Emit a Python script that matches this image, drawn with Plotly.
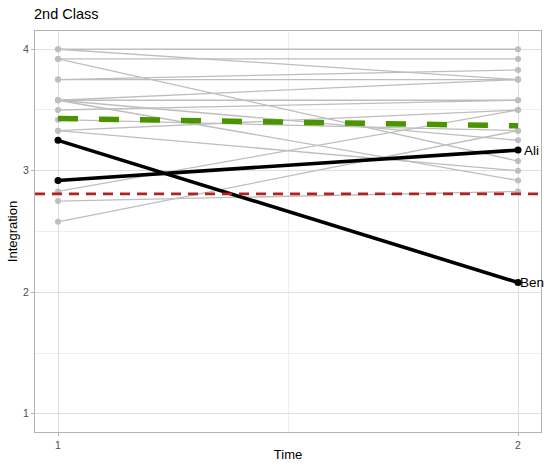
import plotly.graph_objects as go

# integration scores per student, time 1 -> time 2
times = [1, 2]
other_t1 = [4.00, 4.00, 3.92, 3.92, 3.75, 3.75, 3.58, 3.58, 3.58, 3.58, 3.50, 3.42, 3.33, 3.33, 2.83, 2.75, 2.58]
other_t2 = [4.00, 3.75, 3.92, 3.08, 3.83, 3.75, 3.75, 3.58, 3.25, 2.92, 3.58, 3.33, 3.50, 3.00, 3.50, 2.83, 3.33]

focus_names = ["Ali", "Ben"]
focus_t1 = [2.92, 3.25]
focus_t2 = [3.17, 2.08]

class_mean = [3.43, 3.37]   # green dashed summary line
reference_level = 2.81      # red dashed line

GREY = "#BEBEBE"
label_shift = {"Ali": 4, "Ben": 0}

fig = go.Figure()

for a, b in zip(other_t1, other_t2):
    fig.add_trace(go.Scatter(
        x=times, y=[a, b], mode="lines+markers",
        line=dict(color=GREY, width=1.3),
        marker=dict(color=GREY, size=6),
        showlegend=False, hoverinfo="skip",
    ))

for name, a, b in zip(focus_names, focus_t1, focus_t2):
    fig.add_trace(go.Scatter(
        x=times, y=[a, b], mode="lines+markers",
        line=dict(color="black", width=3.6),
        marker=dict(color="black", size=7),
        showlegend=False, name=name,
    ))
    fig.add_annotation(
        x=times[-1], y=b, text=name, showarrow=False,
        xanchor="left", yanchor="middle", xshift=label_shift[name],
        font=dict(size=13.5, color="black"),
    )

fig.add_trace(go.Scatter(
    x=times, y=class_mean, mode="lines",
    line=dict(color="#4A9400", width=5.5, dash="20px,21px"),
    showlegend=False, hoverinfo="skip",
))

# horizontal reference across the whole panel
fig.add_shape(
    type="line", xref="paper", x0=0, x1=1,
    yref="y", y0=reference_level, y1=reference_level,
    line=dict(color="#B22222", width=2.6, dash="10px,7px"),
    opacity=1, layer="above",
)

fig.update_layout(
    width=550, height=468,
    template="simple_white",
    paper_bgcolor="white", plot_bgcolor="white",
    margin=dict(l=35, r=9, t=31, b=36),
    font=dict(family="Liberation Sans, Arial, sans-serif"),
    title=dict(text="2nd Class", x=0, xref="paper", xanchor="left",
               y=1, yref="container", yanchor="top", pad=dict(t=9, l=-1),
               font=dict(size=14.5, color="black"), automargin=False),
)

axis_common = dict(
    showline=True, linecolor="#B3B3B3", linewidth=1, mirror=True,
    showgrid=True, gridcolor="#DEDEDE", gridwidth=1,
    ticks="outside", ticklen=3, tickcolor="#B3B3B3", tickwidth=1,
    tickfont=dict(size=10.5, color="#4D4D4D"),
    zeroline=False, automargin=False,
)

fig.update_xaxes(
    **axis_common, range=[0.95, 2.05], tickvals=[1, 2],
    minor=dict(tickvals=[1.5], showgrid=True, gridcolor="#EEEEEE", gridwidth=0.6, ticks=""),
    title=dict(text="Time", font=dict(size=13, color="black"), standoff=0),
)
fig.update_yaxes(
    **axis_common, range=[0.85, 4.15], tickvals=[1, 2, 3, 4],
    minor=dict(tickvals=[1.5, 2.5, 3.5], showgrid=True, gridcolor="#EEEEEE", gridwidth=0.6, ticks=""),
    title=dict(text="Integration", font=dict(size=13, color="black"), standoff=2),
)

# drop the browser's default body margin so the 550x468 figure fills the window
fig.write_html("out.html", config={"displayModeBar": False},
               post_script="document.body.style.margin='0';")
